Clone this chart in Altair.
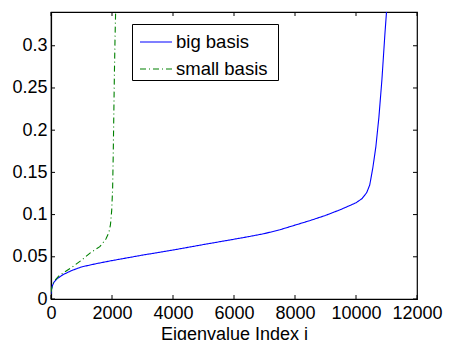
import altair as alt
import pandas as pd

big_x = [0, 20, 50, 100, 200, 400, 700, 1000, 1500, 2000, 3000, 4000, 5000, 6000, 6500, 7000, 7500,
         8000, 8500, 9000, 9500, 10000, 10200, 10350, 10450, 10550, 10650, 10750, 10850, 10950, 11020]
big_y = [0.006, 0.012, 0.016, 0.020, 0.024, 0.029, 0.034, 0.038, 0.042, 0.0455, 0.052, 0.058, 0.0645,
         0.0708, 0.074, 0.0775, 0.082, 0.0875, 0.093, 0.099, 0.106, 0.114, 0.119, 0.126, 0.135, 0.155,
         0.18, 0.215, 0.26, 0.315, 0.35]
small_x = [0, 30, 80, 150, 250, 400, 700, 1000, 1300, 1600, 1800, 1900, 1950, 1990, 2020, 2040,
           2060, 2080, 2100, 2125]
small_y = [0.008, 0.014, 0.019, 0.023, 0.027, 0.031, 0.038, 0.046, 0.055, 0.062, 0.071, 0.079,
           0.088, 0.105, 0.13, 0.17, 0.22, 0.27, 0.31, 0.35]
series_names = ["big basis", "small basis"]
x_ticks = [0, 2000, 4000, 6000, 8000, 10000, 12000]
y_ticks = [0, 0.05, 0.1, 0.15, 0.2, 0.25, 0.3]

df = pd.concat([
    pd.DataFrame({"x": big_x, "y": big_y, "s": series_names[0]}),
    pd.DataFrame({"x": small_x, "y": small_y, "s": series_names[1]}),
])

W, H = 366, 287
FONT = "Liberation Sans"
FS = 18
xs = alt.Scale(domain=[0, 12000], nice=False, zero=False)
ys = alt.Scale(domain=[0, 0.34], nice=False, zero=False)

legend = alt.Legend(title="\u00a0", titleOrient="right", titlePadding=10, titleFontSize=10,
                    orient="none", legendX=81, legendY=12,
                    strokeColor="black", fillColor="white", padding=1,
                    labelFontSize=18.5, labelFont=FONT, labelColor="black",
                    symbolType="stroke", symbolSize=1024, symbolStrokeWidth=1.1,
                    symbolOffset=6, labelOffset=3, rowPadding=-2)

lines = alt.Chart(df).mark_line(strokeWidth=1.1, clip=True).encode(
    x=alt.X("x:Q", scale=xs, title="Eigenvalue Index i",
            axis=alt.Axis(values=x_ticks, format="d", tickSize=0, labelPadding=5,
                          labelOverlap=False, labelFlush=False, titlePadding=3, grid=False)),
    y=alt.Y("y:Q", scale=ys, title=None,
            axis=alt.Axis(values=y_ticks, format="~g", tickSize=0, labelPadding=4,
                          labelOverlap=False, labelFlush=False, grid=False)),
    color=alt.Color("s:N", scale=alt.Scale(domain=series_names, range=["#0000ff", "#008000"]),
                    legend=legend),
    strokeDash=alt.StrokeDash("s:N", scale=alt.Scale(domain=series_names, range=[[1, 0], [6, 3, 1, 3]]),
                              legend=legend),
    order="x:Q",
)

xt = pd.DataFrame({"v": x_ticks})
yt = pd.DataFrame({"v": y_ticks})
tick_style = dict(color="black", strokeWidth=1)
xb = alt.Chart(xt).mark_rule(**tick_style).encode(x=alt.X("v:Q", scale=xs), y=alt.value(H), y2=alt.value(H - 4))
xtop = alt.Chart(xt).mark_rule(**tick_style).encode(x=alt.X("v:Q", scale=xs), y=alt.value(0), y2=alt.value(4))
yl = alt.Chart(yt).mark_rule(**tick_style).encode(y=alt.Y("v:Q", scale=ys), x=alt.value(0), x2=alt.value(4))
yr = alt.Chart(yt).mark_rule(**tick_style).encode(y=alt.Y("v:Q", scale=ys), x=alt.value(W), x2=alt.value(W - 4))

chart = alt.layer(lines, xb, xtop, yl, yr).properties(
    width=W, height=H,
    autosize=alt.AutoSizeParams(type="none"),
    padding={"left": 43, "top": 4, "right": 26, "bottom": 41},
    background="white",
).configure_view(stroke="black", strokeWidth=1.2).configure_axis(
    labelFont=FONT, labelFontSize=FS, labelColor="black", titleFont=FONT, titleFontSize=FS,
    titleFontWeight="normal", titleColor="black", domainColor="black", domainWidth=1.2,
)

chart.save("out.html", embed_options={"renderer": "svg", "actions": False})
